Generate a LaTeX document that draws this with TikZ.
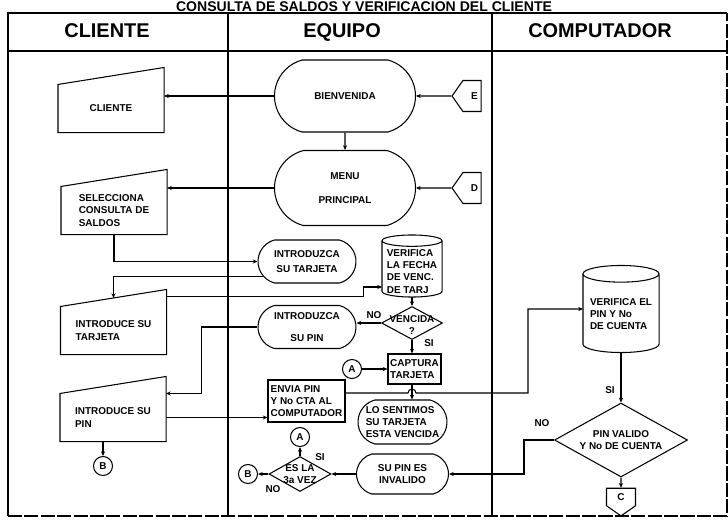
\documentclass[tikz,border=0pt]{standalone}
\usepackage{fontspec}
\setmainfont{Liberation Sans}
\usetikzlibrary{shapes.geometric,shapes.misc,shapes.symbols,calc,arrows.meta}

\def\px{0.03cm}
\def\slant{0.51cm}

\begin{document}
\begin{tikzpicture}[x=\px, y=-\px, line width=0.9pt,
  every node/.style={font=\bfseries\fontsize{8.5}{10.5}\selectfont, inner sep=1pt},
  hdr/.style={font=\bfseries\fontsize{17}{19}\selectfont, anchor=base},
  minput/.style={minimum width=105*\px, minimum height=47*\px, align=left, inner sep=0pt},
  disp/.style={draw, rounded rectangle, rounded rectangle arc length=150, align=center, inner sep=0pt},
  proc/.style={draw, rectangle, align=left, inner sep=1pt},
  dbase/.style={rectangle, inner sep=0pt},
  decide/.style={draw, diamond, inner sep=0pt},
  conn/.style={draw, circle, inner sep=0pt, minimum size=19*\px},
  offpage/.style={draw, signal, signal pointer angle=110, inner sep=0pt},
  arr/.style={-{Stealth[length=4pt,width=3.5pt]}},
  frame/.style={dash pattern=on 12pt off 2pt}]

  \useasboundingbox (0,0) rectangle (728,522);

  \node[anchor=base, font=\bfseries\fontsize{12}{14}\selectfont] (titulo) at (364,11.5) {CONSULTA DE SALDOS Y VERIFICACION DEL CLIENTE};

  \draw (8,516) -- (8,13) -- (727,13);
  \draw[frame] (8,516) -- (727,516) -- (727,13);
  \draw (8,51) -- (727,51);
  \draw (228,13) -- (228,516);
  \draw (492,13) -- (492,516);

  \node[hdr] (hcliente) at (107,37) {CLIENTE};
  \node[hdr] (hequipo) at (342,37) {EQUIPO};
  \node[hdr] (hcomput) at (600,37) {COMPUTADOR};

  \node[minput, align=center] (cliente) at (111,108.5) {CLIENTE};
  \node[minput] (selecciona) at (114,210.5) {SELECCIONA\\CONSULTA DE\\SALDOS};
  \node[minput] (intarjc) at (113.5,330.5) {INTRODUCE SU\\TARJETA};
  \node[minput] (inpinc) at (113,417.5) {INTRODUCE SU\\PIN};
  \node[conn] (Bc) at (103,466) {B};
  \foreach \n in {cliente,selecciona,intarjc,inpinc}
    \draw (\n.south west) -- (\n.south east) -- ([yshift=\slant]\n.north east) -- (\n.north west) -- cycle;

  \node[disp, minimum width=141*\px, minimum height=72*\px] (bienv) at (345,96) {BIENVENIDA};
  \node[disp, minimum width=141*\px, minimum height=75*\px] (menu) at (345,188) {MENU\\[10pt]PRINCIPAL};
  \node[offpage, signal to=west, minimum width=29*\px, minimum height=31*\px] (E) at (472,96) {\hspace{4pt}E};
  \node[offpage, signal to=west, minimum width=29*\px, minimum height=31*\px] (D) at (472,188) {\hspace{4pt}D};
  \node[disp, minimum width=98*\px, minimum height=43*\px] (intarje) at (307,261.5) {INTRODUZCA\\[2pt]SU TARJETA};
  \node[dbase, minimum width=59*\px, minimum height=61*\px,
    label={[align=left, yshift=-0.16cm]center:VERIFICA\\LA FECHA\\DE VENC.\\DE TARJ}] (verif1) at (412,266) {};
  \node[decide, minimum width=61*\px, minimum height=33*\px,
    label={[align=center, yshift=-2pt]center:VENCIDA\\?}] (vencida) at (412,323) {};
  \node[disp, minimum width=98*\px, minimum height=43*\px] (inpine) at (307,327) {INTRODUZCA\\[9pt]SU PIN};
  \node[proc, minimum width=53*\px, minimum height=30*\px] (captura) at (414.5,369) {CAPTURA\\TARJETA};
  \node[conn] (Ae) at (352,369) {A};
  \node[proc, minimum width=77*\px, minimum height=42*\px] (envia) at (306.5,401) {ENVIA PIN\\Y No CTA AL\\COMPUTADOR};
  \node[disp, minimum width=89*\px, minimum height=44*\px, align=left] (losiento) at (402.5,422) {LO SENTIMOS\\SU TARJETA\\ESTA VENCIDA};
  \node[disp, minimum width=92*\px, minimum height=40*\px] (pininv) at (402.5,474) {SU PIN ES\\INVALIDO};
  \node[decide, minimum width=62*\px, minimum height=35*\px,
    label={[align=center]center:ES LA\\3a VEZ}] (vez3) at (300,474) {};
  \node[conn] (A2) at (300,437) {A};
  \node[conn] (B2) at (248,474) {B};

  \node[dbase, minimum width=75*\px, minimum height=86*\px,
    label={[align=left, yshift=-0.15cm]center:VERIFICA EL\\PIN Y No\\DE CUENTA}] (verif2) at (621,309) {};
  \node[decide, minimum width=133*\px, minimum height=74*\px,
    label={[align=center]center:PIN VALIDO\\Y No DE CUENTA}] (pinval) at (621,440) {};
  \node[offpage, signal to=south, minimum width=29*\px, minimum height=20*\px] (C) at (621,497) {C};

  \foreach \cyl/\ee in {verif1/0.17cm, verif2/0.25cm}
    \draw let \p1=(\cyl.north west), \p2=(\cyl.north east), \n1={veclen(\x2-\x1,\y2-\y1)/2} in
      ([yshift=-\ee]\cyl.north west) -- ([yshift=\ee]\cyl.south west)
      arc[start angle=180, end angle=360, x radius=\n1, y radius=\ee]
      -- ([yshift=-\ee]\cyl.north east)
      ([yshift=-\ee]\cyl.north) ellipse[x radius=\n1, y radius=\ee];

  \node (lno1) at (374,315) {NO};
  \node (lsi1) at (429,343) {SI};
  \node (lsi2) at (610,390) {SI};
  \node (lno2) at (542,423) {NO};
  \node (lsi3) at (320,457) {SI};
  \node (lno3) at (273,489) {NO};

  \draw[arr] (E) -- (bienv);
  \draw[arr] (bienv.west) -- (bienv.west -| cliente.east);
  \draw[arr] (bienv) -- (menu);
  \draw[arr] (D) -- (menu);
  \draw[arr] (menu.west) -- (menu.west -| selecciona.east);
  \draw[arr] (selecciona.south) |- (intarje.west);
  \draw[arr] ($(intarje.west)+(6,15)$) -| ([yshift=0.255cm]intarjc.north);
  \draw[arr] ([yshift=0.3cm]intarjc.north east) -- ++(197,0) |- ([yshift=-0.63cm]verif1.west);
  \draw[arr] (verif1) -- (vencida);
  \draw[arr] (vencida.west) -- (vencida.west -| inpine.east);
  \draw[arr] (vencida.south) -- (vencida.south |- captura.north);
  \draw[arr] (Ae) -- (Ae -| captura.west);
  \draw[arr] (inpine.west) -- ++(-56,0) |- (inpinc.north east);
  \draw[arr] (inpinc.east) -- (inpinc.east -| envia.west);
  \draw[arr] (inpinc.south -| Bc) -- (Bc);
  \draw[arr] ([yshift=0.24cm]envia.east) -- ($(vencida.south |- envia.east)+(-4,-8)$)
    arc[start angle=180, end angle=0, radius=4*\px] -- ++(112,0) |- (verif2.west);
  \draw[arr] (vencida.south |- captura.south) -- (vencida.south |- losiento.north);
  \draw[arr] (verif2) -- (pinval);
  \draw[arr] (pinval) -- (C);
  \draw[arr] (pinval.west) -- ++(-30,0) |- (pininv.east);
  \draw[arr] (pininv) -- (vez3);
  \draw[arr] (vez3) -- (A2);
  \draw[arr] (vez3) -- (B2);
\end{tikzpicture}
\end{document}
